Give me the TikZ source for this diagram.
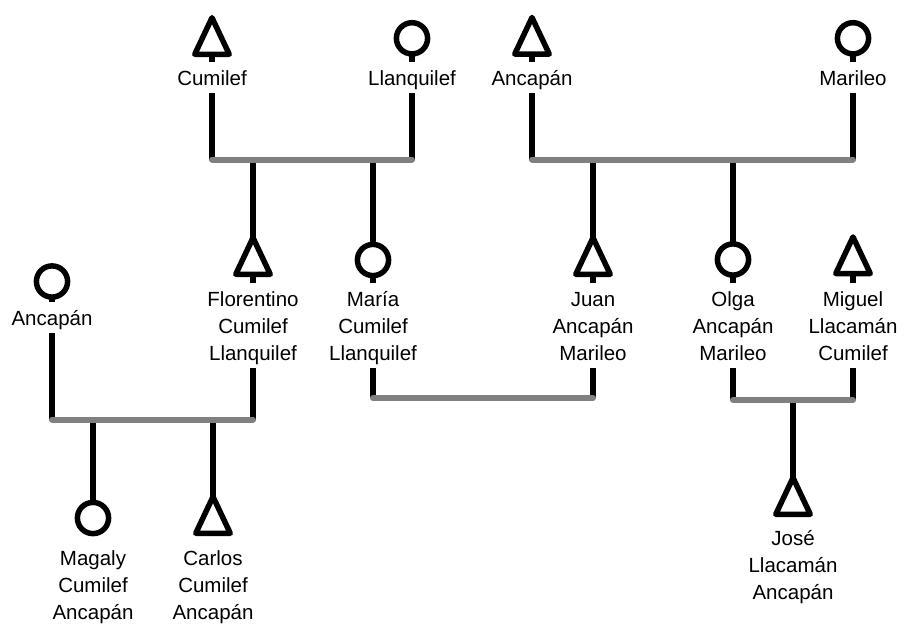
\documentclass[tikz,border=0pt]{standalone}
\usepackage{fontspec}
\setmainfont{Liberation Sans}
\usetikzlibrary{backgrounds}
\newcommand\mytop{\rule{0pt}{23.2pt}}
\newcommand\mybot{\rule[-8pt]{0pt}{8pt}}
\definecolor{bargray}{RGB}{128,128,128}
\tikzset{
 sym/.style={line width=5.5pt, draw=black, fill=white, line join=round},
 fem/.style={circle, sym, minimum size=31.2pt, inner sep=0pt, outer sep=0pt},
 male/.pic={\draw[sym] (0,0) -- (17.25,36.5) -- (-17.25,36.5) -- cycle;},
 lbl/.style={anchor=north, fill=white, inner xsep=1pt, inner ysep=0pt, align=center, font=\fontsize{20.5pt}{27pt}\selectfont},
 link/.style={line width=5.5pt, draw=black},
 famBar/.style={line width=6pt, draw=bargray, line cap=round},
}
\begin{document}
\begin{tikzpicture}[x=1pt,y=-1pt]
\useasboundingbox (0,0) rectangle (904,625);
% bar levels
\coordinate (b1) at (0,159.5);
\coordinate (b2) at (0,419.5);
\coordinate (b3) at (0,398);
\coordinate (b4) at (0,400);
% symbols
\coordinate (cu) at (212,17.75); \pic at (cu) {male};
\node[fem] (ll) at (412,38.3) {};
\coordinate (an1) at (532,17.5); \pic at (an1) {male};
\node[fem] (mar) at (853,38.3) {};
\coordinate (fl) at (253,237.75); \pic at (fl) {male};
\node[fem] (ma) at (373,260) {};
\coordinate (ju) at (593,237.75); \pic at (ju) {male};
\node[fem] (ol) at (733,259.5) {};
\coordinate (mi) at (853,237); \pic at (mi) {male};
\node[fem] (an2) at (52,281.5) {};
\node[fem] (mg) at (93,518) {};
\coordinate (ca) at (213,496.75); \pic at (ca) {male};
\coordinate (jo) at (793,477.75); \pic at (jo) {male};
% labels
\node[lbl] (cu-l) at (212,62) {\mytop Cumilef\mybot};
\node[lbl] (ll-l) at (412,62) {\mytop Llanquilef\mybot};
\node[lbl] (an1-l) at (532,62) {\mytop Ancapán\mybot};
\node[lbl] (mar-l) at (853,62) {\mytop Marileo\mybot};
\node[lbl] (fl-l) at (253,283) {\mytop Florentino\\Cumilef\\Llanquilef\mybot};
\node[lbl] (ma-l) at (373,283) {\mytop María\\Cumilef\\Llanquilef\mybot};
\node[lbl] (ju-l) at (593,283) {\mytop Juan\\Ancapán\\Marileo\mybot};
\node[lbl] (ol-l) at (733,283) {\mytop Olga\\Ancapán\\Marileo\mybot};
\node[lbl] (mi-l) at (853,283) {\mytop Miguel\\Llacamán\\Cumilef\mybot};
\node[lbl] (an2-l) at (52,302) {\mytop Ancapán\mybot};
\node[lbl] (mg-l) at (93,542) {\mytop Magaly\\Cumilef\\Ancapán\mybot};
\node[lbl] (ca-l) at (213,542) {\mytop Carlos\\Cumilef\\Ancapán\mybot};
\node[lbl] (jo-l) at (793,522) {\mytop José\\Llacamán\\Ancapán\mybot};
% connectors
\begin{scope}[on background layer]
\draw[link] (cu) -- (cu |- b1);
\draw[link] (ll) -- (ll |- b1);
\draw[link] (an1) -- (an1 |- b1);
\draw[link] (mar) -- (mar |- b1);
\draw[link] (fl |- b1) -- (fl |- b2);
\draw[link] (ma |- b1) -- (ma |- b3);
\draw[link] (ju |- b1) -- (ju |- b3);
\draw[link] (ol |- b1) -- (ol |- b4);
\draw[link] (mi) -- (mi |- b4);
\draw[link] (an2) -- (an2 |- b2);
\draw[link] (mg |- b2) -- (mg);
\draw[link] (ca |- b2) -- (ca);
\draw[link] (jo |- b4) -- (jo);
\end{scope}
% marriage bars
\draw[famBar] (cu |- b1) -- (ll |- b1);
\draw[famBar] (an1 |- b1) -- (mar |- b1);
\draw[famBar] (an2 |- b2) -- (fl |- b2);
\draw[famBar] (ma |- b3) -- (ju |- b3);
\draw[famBar] (ol |- b4) -- (mi |- b4);
\end{tikzpicture}
\end{document}
